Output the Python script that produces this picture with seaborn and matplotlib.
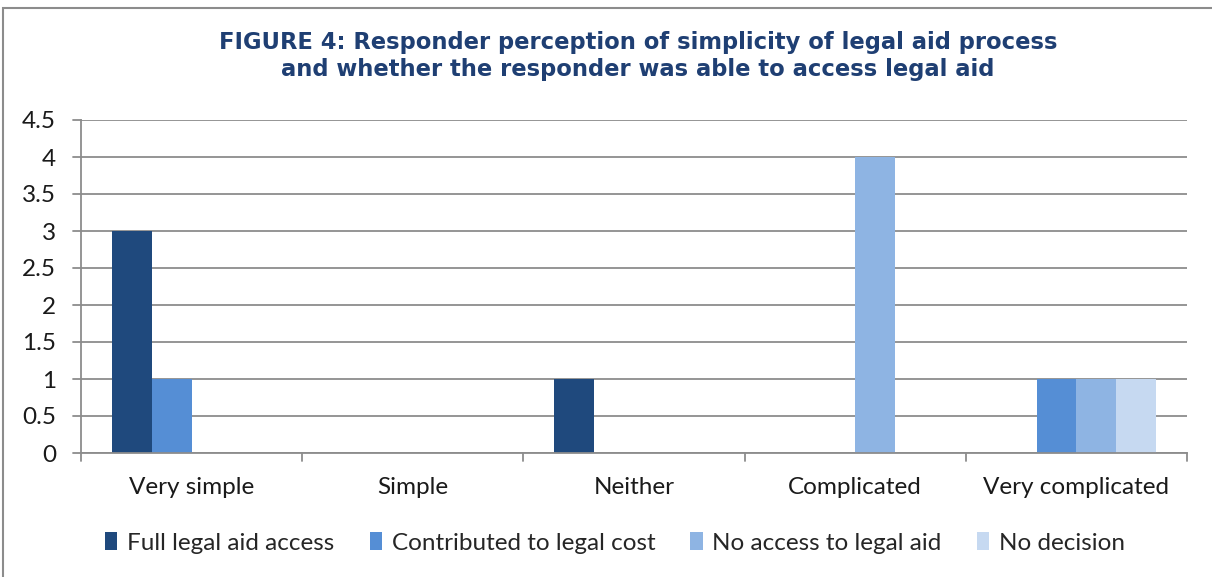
import matplotlib
matplotlib.use("Agg")
import matplotlib.pyplot as plt
import seaborn as sns
import pandas as pd
from matplotlib.patches import Rectangle

categories = ["Very simple", "Simple", "Neither", "Complicated", "Very complicated"]
series = ["Full legal aid access", "Contributed to legal cost", "No access to legal aid", "No decision"]
full_access = [3, 0, 1, 0, 0]
contributed = [1, 0, 0, 0, 1]
no_access = [0, 0, 0, 4, 1]
no_decision = [0, 0, 0, 0, 1]
colors = ["#1F497D", "#558ED5", "#8EB4E3", "#C6D9F1"]
yticks = [0, 0.5, 1, 1.5, 2, 2.5, 3, 3.5, 4, 4.5]
ytick_labels = ["0", "0.5", "1", "1.5", "2", "2.5", "3", "3.5", "4", "4.5"]

rows = []
for s, vals in zip(series, [full_access, contributed, no_access, no_decision]):
    for c, v in zip(categories, vals):
        rows.append({"category": c, "series": s, "value": v})
df = pd.DataFrame(rows)

sns.set_theme(style="white")
plt.rcParams["font.family"] = ["Lato", "DejaVu Sans"]

W, H = 1212, 577
fig = plt.figure(figsize=(W / 100, H / 100), dpi=100)
fig.patch.set_facecolor("white")
fig.patches.append(Rectangle((3 / W, -0.01), 1.02, 1 - 8 / H + 0.01, transform=fig.transFigure,
                             fill=False, edgecolor="#8C8C8C", linewidth=1.5))

ax = fig.add_axes([81 / W, 1 - 453 / H, (1187 - 81) / W, (453 - 120) / H])
sns.barplot(data=df, x="category", y="value", hue="series", order=categories,
            hue_order=series, palette=colors, saturation=1, width=0.72, ax=ax,
            edgecolor="none", linewidth=0, legend=True)

ax.set_ylim(0, 4.5)
ax.set_xlim(-0.5, 4.5)
ax.set_yticks(yticks)
ax.set_yticklabels(ytick_labels, fontsize=17.5, color="#1a1a1a")
ax.set_xticks(range(len(categories)))
ax.set_xticklabels(categories, fontsize=17.5, color="#1a1a1a")
ax.tick_params(axis="x", length=0, pad=17)
ax.tick_params(axis="y", length=0, pad=18)
ax.set_xlabel("")
ax.set_ylabel("")
ax.yaxis.grid(True, color="#8C8C8C", linewidth=1.3)
ax.set_axisbelow(True)
for side in ["top", "right"]:
    ax.spines[side].set_visible(False)
for side in ["left", "bottom"]:
    ax.spines[side].set_color("#8C8C8C")
    ax.spines[side].set_linewidth(1.3)

# outward y ticks and category-boundary x ticks
for y in yticks:
    ax.plot([-0.5 - 8 / 221.2, -0.5], [y, y], color="#8C8C8C", lw=1.3, clip_on=False,
            zorder=0)
for xb in [-0.5, 0.5, 1.5, 2.5, 3.5, 4.5]:
    ax.plot([xb, xb], [0, -8 / 333 * 4.5], color="#8C8C8C", lw=1.3, clip_on=False)

handles, labels = ax.get_legend_handles_labels()
ax.get_legend().remove()
fig.legend(handles, labels, loc="center", bbox_to_anchor=(615 / W, 1 - 543 / H), ncol=4,
           frameon=False, fontsize=17.5, handlelength=0.5, handleheight=0.75,
           handletextpad=0.4, columnspacing=1.45)

fig.text(638 / W, 1 - 56 / H,
         "FIGURE 4: Responder perception of simplicity of legal aid process\n"
         "and whether the responder was able to access legal aid",
         ha="center", va="center", fontsize=16.3, fontweight="bold", color="#1F3F73",
         linespacing=1.25, family=["DejaVu Sans"])

fig.savefig("out.png", dpi=100, facecolor="white")
